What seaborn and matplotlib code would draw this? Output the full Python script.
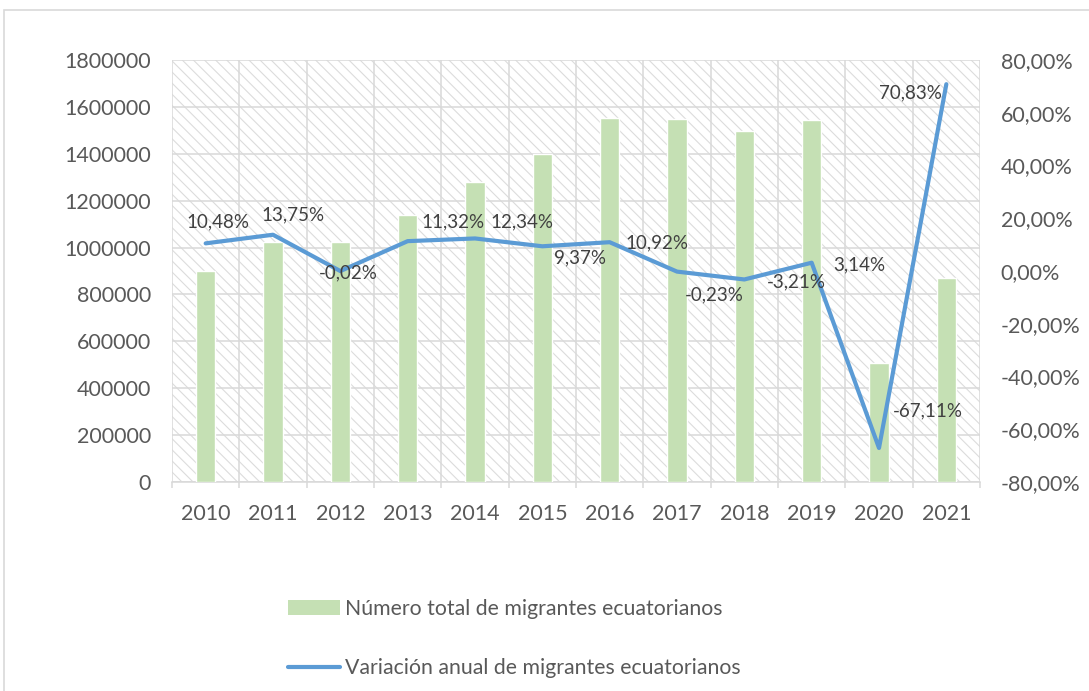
import numpy as np
import pandas as pd
import matplotlib
matplotlib.use("Agg")
import matplotlib.pyplot as plt
import seaborn as sns
from matplotlib.patches import Rectangle, Patch
from matplotlib.lines import Line2D
from matplotlib.ticker import FuncFormatter, MultipleLocator, FixedLocator

# ---------------- data ----------------
years = ["2010", "2011", "2012", "2013", "2014", "2015",
         "2016", "2017", "2018", "2019", "2020", "2021"]
total_migrants = [900000, 1023000, 1022800, 1138600, 1279000, 1399000,
                  1551800, 1548200, 1498500, 1545600, 508300, 868300]
annual_variation = [10.48, 13.75, -0.02, 11.32, 12.34, 9.37,
                    10.92, -0.23, -3.21, 3.14, -67.11, 70.83]
bar_label = "Número total de migrantes ecuatorianos"
line_label = "Variación anual de migrantes ecuatorianos"

# label placement (pixel offsets right / down from each point)
label_offsets = [(12, -21), (20, -20), (8, 2), (45, -19), (47, -17), (38, 12),
                 (47, 1), (37, 23), (52, 2), (48, 2), (49, -37), (-36, 9)]

BAR_COLOR = "#C5E0B4"
LINE_COLOR = "#5B9BD5"
GRID_COLOR = "#D9D9D9"
TEXT_COLOR = "#595959"

sns.set_theme(style="white")
plt.rcParams["font.family"] = ["Lato", "DejaVu Sans"]
plt.rcParams["hatch.linewidth"] = 0.8

W, H = 1089, 691
fig = plt.figure(figsize=(W / 100, H / 100), dpi=100)
ax = fig.add_axes([172 / W, 1 - 482 / H, (980 - 172) / W, (482 - 60) / H])

# hatched plot-area background
bg = Rectangle((0, 0), 1, 1, transform=ax.transAxes, facecolor="white",
               edgecolor="#DCDCDC", hatch="\\\\\\", lw=0, zorder=0)
ax.add_patch(bg)

df = pd.DataFrame({"year": years, "total": total_migrants})
sns.barplot(data=df, x="year", y="total", color=BAR_COLOR, saturation=1,
            width=0.29, ax=ax, zorder=3)

ax.set_xlim(-0.5, len(years) - 0.5)
ax.set_ylim(0, 1800000)
ax.yaxis.set_major_locator(MultipleLocator(200000))
ax.yaxis.set_major_formatter(FuncFormatter(lambda v, p: f"{int(round(v))}"))
ax.xaxis.set_minor_locator(FixedLocator(np.arange(-0.5, len(years), 1.0)))
ax.set_axisbelow(True)
ax.yaxis.grid(True, color=GRID_COLOR, lw=1.1)
ax.xaxis.grid(True, which="minor", color=GRID_COLOR, lw=1.1)
ax.xaxis.grid(False, which="major")
ax.set_xlabel("")
ax.set_ylabel("")
for s in ["top", "left", "right"]:
    ax.spines[s].set_visible(False)
ax.spines["bottom"].set_color(GRID_COLOR)
ax.spines["bottom"].set_linewidth(1.1)
ax.tick_params(axis="y", length=0, pad=15, labelsize=15.5, labelcolor=TEXT_COLOR)
ax.tick_params(axis="x", which="major", length=0, pad=16, labelsize=15.5,
               labelcolor=TEXT_COLOR)
ax.tick_params(axis="x", which="minor", length=4.5, width=1.1, color=GRID_COLOR,
               bottom=True)

# secondary axis: annual variation line
ax2 = ax.twinx()
sns.lineplot(x=np.arange(len(years)), y=annual_variation, ax=ax2,
             color=LINE_COLOR, linewidth=3, solid_joinstyle="round",
             solid_capstyle="round")
ax2.set_ylim(-80, 80)
ax2.yaxis.set_major_locator(MultipleLocator(20))
ax2.yaxis.set_major_formatter(
    FuncFormatter(lambda v, p: f"{v:.2f}%".replace(".", ",").replace("-0,00", "0,00")))
ax2.tick_params(axis="y", length=0, pad=15, labelsize=15.5, labelcolor=TEXT_COLOR)
ax2.set_ylabel("")
for s in ax2.spines.values():
    s.set_visible(False)
ax2.grid(False)

for i, (v, (dx, dy)) in enumerate(zip(annual_variation, label_offsets)):
    ax2.annotate(f"{v:.2f}%".replace(".", ","), (i, v), xytext=(dx, -dy),
                 textcoords="offset pixels", ha="center", va="center",
                 fontsize=13.5, color="#404040", zorder=5)

# legend
handles = [Patch(facecolor=BAR_COLOR, edgecolor="none", label=bar_label),
           Line2D([], [], color=LINE_COLOR, lw=3, label=line_label)]
fig.legend(handles=handles, loc="upper left",
           bbox_to_anchor=(288 / W, 1 - 599 / H), frameon=False, fontsize=15.3,
           handlelength=2.45, handletextpad=0.25, labelspacing=1.85,
           borderpad=0, borderaxespad=0, labelcolor=TEXT_COLOR)

# outer chart border
fig.add_artist(Rectangle((4 / W, -0.1), 1.2, 1.1 - 10 / H,
                         transform=fig.transFigure, fill=False,
                         edgecolor=GRID_COLOR, lw=1.2))

fig.savefig("out.png", dpi=100)
